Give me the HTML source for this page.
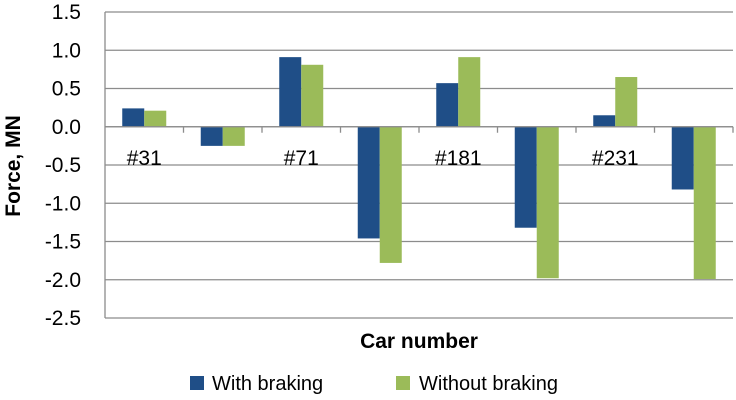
<!DOCTYPE html>
<html><head><meta charset="utf-8"><style>
body{margin:0;background:#fff;}
svg{display:block;font-family:"Liberation Sans",Arial,sans-serif;}
</style></head><body>
<svg id="c" width="736" height="400" viewBox="0 0 736 400">
<g id="grid"></g>
<g id="bars"></g>
<g id="axes"></g>
<text x="0" y="0" transform="translate(20,166) rotate(-90)" text-anchor="middle" font-size="21" font-weight="bold">Force, MN</text>
<text x="419" y="348" text-anchor="middle" font-size="21" font-weight="bold">Car number</text>
<g>
<rect x="190" y="376" width="14" height="14" fill="#1F4E87"/>
<text x="212" y="390" font-size="20">With braking</text>
<rect x="396" y="376" width="14" height="14" fill="#9BBB59"/>
<text x="419" y="390" font-size="20">Without braking</text>
</g>
</svg>
<script>
const categories = ["#31", "", "#71", "", "#181", "", "#231", ""];
const withBraking = [0.24, -0.25, 0.91, -1.46, 0.57, -1.32, 0.15, -0.82];
const withoutBraking = [0.21, -0.25, 0.81, -1.78, 0.91, -1.98, 0.65, -1.99];
const yTicks = [1.5, 1.0, 0.5, 0.0, -0.5, -1.0, -1.5, -2.0, -2.5];

const NS = "http://www.w3.org/2000/svg";
const plotLeft = 105, plotRight = 733, plotTop = 12, plotBottom = 318, yMax = 1.5, yMin = -2.5;
const yScale = v => plotTop + (yMax - v) / (yMax - yMin) * (plotBottom - plotTop);
const bandW = (plotRight - plotLeft) / categories.length;
const xScale = i => plotLeft + i * bandW;
function mk(tag, attrs, parent) {
  const e = document.createElementNS(NS, tag);
  for (const k in attrs) e.setAttribute(k, attrs[k]);
  parent.appendChild(e);
  return e;
}
const gridG = document.getElementById("grid"), barsG = document.getElementById("bars"), axesG = document.getElementById("axes");
yTicks.forEach(t => {
  const l = mk("line", {x1: plotLeft, x2: plotRight, y1: yScale(t), y2: yScale(t), stroke: "#8c8c8c", "stroke-width": 1.3}, gridG);
  
  
  const tx = mk("text", {x: 81, y: yScale(t) + 7, "text-anchor": "end", "font-size": 21, fill: "#000"}, axesG);
  tx.textContent = t.toFixed(1);
  
  
});
const yAxis = mk("line", {x1: plotLeft, x2: plotLeft, y1: plotTop, y2: plotBottom, stroke: "#8c8c8c", "stroke-width": 1.3}, axesG);


const barW = 22;
categories.forEach((c, i) => {
  const cx = xScale(i) + bandW / 2;
  const v1 = withBraking[i], v2 = withoutBraking[i];
  const b1 = mk("rect", {x: cx - barW, y: Math.min(yScale(v1), yScale(0)), width: barW, height: Math.abs(yScale(v1) - yScale(0)), fill: "#1F4E87"}, barsG);
  
  
  const b2 = mk("rect", {x: cx, y: Math.min(yScale(v2), yScale(0)), width: barW, height: Math.abs(yScale(v2) - yScale(0)), fill: "#9BBB59"}, barsG);
  
  
  const tk = mk("line", {x1: xScale(i + 1), x2: xScale(i + 1), y1: yScale(0), y2: yScale(0) + 6, stroke: "#8c8c8c", "stroke-width": 1.3}, axesG);
  
  
  if (c) {
    const t = mk("text", {x: cx, y: yScale(0) + 38, "text-anchor": "middle", "font-size": 21}, axesG);
    t.textContent = c;
    
    
  }
});
const xAxis = mk("line", {x1: plotLeft, x2: plotRight, y1: yScale(0), y2: yScale(0), stroke: "#8c8c8c", "stroke-width": 1.3}, axesG);


</script>
</body></html>
